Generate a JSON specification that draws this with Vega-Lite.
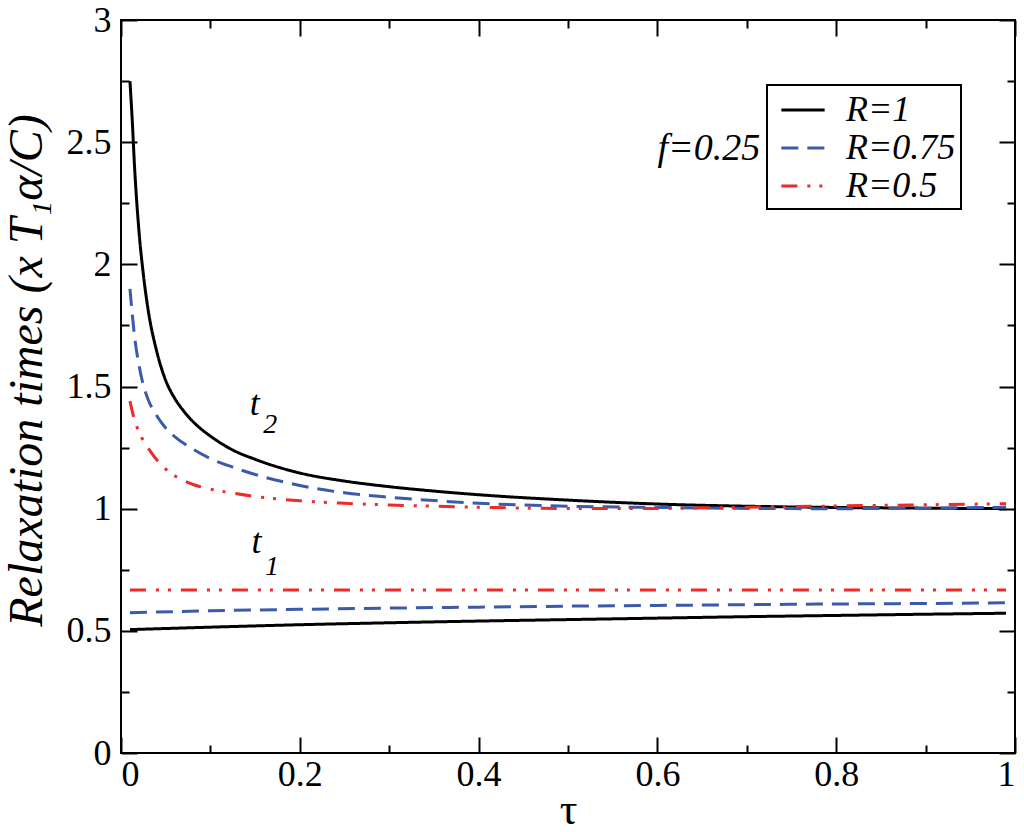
{
  "$schema": "https://vega.github.io/schema/vega-lite/v6.json",
  "width": 894,
  "height": 733,
  "autosize": {"type": "none"},
  "padding": {"left": 121, "top": 20, "right": 9, "bottom": 79},
  "background": "white",
  "config": {
    "view": {"stroke": "black", "strokeWidth": 2},
    "font": "Liberation Serif",
    "axis": {
      "domain": false,
      "grid": false,
      "tickColor": "black",
      "tickWidth": 2,
      "labelFont": "Liberation Serif",
      "labelFontSize": 36,
      "labelColor": "black",
      "titleFont": "Liberation Serif",
      "titleColor": "black",
      "titleFontWeight": "normal"
    },
    "legend": {
      "strokeColor": "black",
      "strokeWidth": 2,
      "fillColor": "white"
    }
  },
  "datasets": {
    "curves": [
      {"tau": 0.01, "t": 2.75, "R": "R=1", "branch": "t2"},
      {"tau": 0.0125, "t": 2.595, "R": "R=1", "branch": "t2"},
      {"tau": 0.015, "t": 2.41, "R": "R=1", "branch": "t2"},
      {"tau": 0.02, "t": 2.14, "R": "R=1", "branch": "t2"},
      {"tau": 0.025, "t": 1.959, "R": "R=1", "branch": "t2"},
      {"tau": 0.03, "t": 1.822, "R": "R=1", "branch": "t2"},
      {"tau": 0.04, "t": 1.643, "R": "R=1", "branch": "t2"},
      {"tau": 0.05, "t": 1.525, "R": "R=1", "branch": "t2"},
      {"tau": 0.06, "t": 1.452, "R": "R=1", "branch": "t2"},
      {"tau": 0.07, "t": 1.4, "R": "R=1", "branch": "t2"},
      {"tau": 0.08, "t": 1.358, "R": "R=1", "branch": "t2"},
      {"tau": 0.09, "t": 1.325, "R": "R=1", "branch": "t2"},
      {"tau": 0.1, "t": 1.297, "R": "R=1", "branch": "t2"},
      {"tau": 0.125, "t": 1.24, "R": "R=1", "branch": "t2"},
      {"tau": 0.15, "t": 1.202, "R": "R=1", "branch": "t2"},
      {"tau": 0.2, "t": 1.146, "R": "R=1", "branch": "t2"},
      {"tau": 0.25, "t": 1.113, "R": "R=1", "branch": "t2"},
      {"tau": 0.3, "t": 1.09, "R": "R=1", "branch": "t2"},
      {"tau": 0.35, "t": 1.072, "R": "R=1", "branch": "t2"},
      {"tau": 0.4, "t": 1.057, "R": "R=1", "branch": "t2"},
      {"tau": 0.5, "t": 1.035, "R": "R=1", "branch": "t2"},
      {"tau": 0.6, "t": 1.019, "R": "R=1", "branch": "t2"},
      {"tau": 0.7, "t": 1.01, "R": "R=1", "branch": "t2"},
      {"tau": 0.8, "t": 1.005, "R": "R=1", "branch": "t2"},
      {"tau": 0.9, "t": 1.002, "R": "R=1", "branch": "t2"},
      {"tau": 0.99, "t": 1.0, "R": "R=1", "branch": "t2"},

      {"tau": 0.01, "t": 1.9, "R": "R=0.75", "branch": "t2"},
      {"tau": 0.0125, "t": 1.8, "R": "R=0.75", "branch": "t2"},
      {"tau": 0.015, "t": 1.71, "R": "R=0.75", "branch": "t2"},
      {"tau": 0.02, "t": 1.59, "R": "R=0.75", "branch": "t2"},
      {"tau": 0.025, "t": 1.505, "R": "R=0.75", "branch": "t2"},
      {"tau": 0.03, "t": 1.45, "R": "R=0.75", "branch": "t2"},
      {"tau": 0.04, "t": 1.38, "R": "R=0.75", "branch": "t2"},
      {"tau": 0.05, "t": 1.33, "R": "R=0.75", "branch": "t2"},
      {"tau": 0.06, "t": 1.295, "R": "R=0.75", "branch": "t2"},
      {"tau": 0.08, "t": 1.245, "R": "R=0.75", "branch": "t2"},
      {"tau": 0.1, "t": 1.205, "R": "R=0.75", "branch": "t2"},
      {"tau": 0.125, "t": 1.17, "R": "R=0.75", "branch": "t2"},
      {"tau": 0.15, "t": 1.14, "R": "R=0.75", "branch": "t2"},
      {"tau": 0.2, "t": 1.095, "R": "R=0.75", "branch": "t2"},
      {"tau": 0.25, "t": 1.065, "R": "R=0.75", "branch": "t2"},
      {"tau": 0.3, "t": 1.047, "R": "R=0.75", "branch": "t2"},
      {"tau": 0.35, "t": 1.033, "R": "R=0.75", "branch": "t2"},
      {"tau": 0.4, "t": 1.022, "R": "R=0.75", "branch": "t2"},
      {"tau": 0.5, "t": 1.01, "R": "R=0.75", "branch": "t2"},
      {"tau": 0.6, "t": 1.005, "R": "R=0.75", "branch": "t2"},
      {"tau": 0.7, "t": 1.001, "R": "R=0.75", "branch": "t2"},
      {"tau": 0.8, "t": 1.0, "R": "R=0.75", "branch": "t2"},
      {"tau": 0.9, "t": 1.002, "R": "R=0.75", "branch": "t2"},
      {"tau": 0.99, "t": 1.006, "R": "R=0.75", "branch": "t2"},

      {"tau": 0.01, "t": 1.44, "R": "R=0.5", "branch": "t2"},
      {"tau": 0.0125, "t": 1.4, "R": "R=0.5", "branch": "t2"},
      {"tau": 0.015, "t": 1.365, "R": "R=0.5", "branch": "t2"},
      {"tau": 0.02, "t": 1.315, "R": "R=0.5", "branch": "t2"},
      {"tau": 0.025, "t": 1.278, "R": "R=0.5", "branch": "t2"},
      {"tau": 0.03, "t": 1.25, "R": "R=0.5", "branch": "t2"},
      {"tau": 0.04, "t": 1.2, "R": "R=0.5", "branch": "t2"},
      {"tau": 0.05, "t": 1.162, "R": "R=0.5", "branch": "t2"},
      {"tau": 0.06, "t": 1.135, "R": "R=0.5", "branch": "t2"},
      {"tau": 0.08, "t": 1.1, "R": "R=0.5", "branch": "t2"},
      {"tau": 0.1, "t": 1.08, "R": "R=0.5", "branch": "t2"},
      {"tau": 0.125, "t": 1.064, "R": "R=0.5", "branch": "t2"},
      {"tau": 0.15, "t": 1.05, "R": "R=0.5", "branch": "t2"},
      {"tau": 0.2, "t": 1.032, "R": "R=0.5", "branch": "t2"},
      {"tau": 0.25, "t": 1.022, "R": "R=0.5", "branch": "t2"},
      {"tau": 0.3, "t": 1.015, "R": "R=0.5", "branch": "t2"},
      {"tau": 0.35, "t": 1.01, "R": "R=0.5", "branch": "t2"},
      {"tau": 0.4, "t": 1.006, "R": "R=0.5", "branch": "t2"},
      {"tau": 0.5, "t": 1.001, "R": "R=0.5", "branch": "t2"},
      {"tau": 0.6, "t": 1.001, "R": "R=0.5", "branch": "t2"},
      {"tau": 0.7, "t": 1.006, "R": "R=0.5", "branch": "t2"},
      {"tau": 0.8, "t": 1.011, "R": "R=0.5", "branch": "t2"},
      {"tau": 0.9, "t": 1.016, "R": "R=0.5", "branch": "t2"},
      {"tau": 0.99, "t": 1.02, "R": "R=0.5", "branch": "t2"},

      {"tau": 0.01, "t": 0.505, "R": "R=1", "branch": "t1"},
      {"tau": 0.1, "t": 0.515, "R": "R=1", "branch": "t1"},
      {"tau": 0.2, "t": 0.525, "R": "R=1", "branch": "t1"},
      {"tau": 0.3, "t": 0.533, "R": "R=1", "branch": "t1"},
      {"tau": 0.4, "t": 0.54, "R": "R=1", "branch": "t1"},
      {"tau": 0.5, "t": 0.546, "R": "R=1", "branch": "t1"},
      {"tau": 0.6, "t": 0.552, "R": "R=1", "branch": "t1"},
      {"tau": 0.7, "t": 0.558, "R": "R=1", "branch": "t1"},
      {"tau": 0.8, "t": 0.563, "R": "R=1", "branch": "t1"},
      {"tau": 0.9, "t": 0.568, "R": "R=1", "branch": "t1"},
      {"tau": 0.99, "t": 0.572, "R": "R=1", "branch": "t1"},

      {"tau": 0.01, "t": 0.574, "R": "R=0.75", "branch": "t1"},
      {"tau": 0.1, "t": 0.582, "R": "R=0.75", "branch": "t1"},
      {"tau": 0.2, "t": 0.588, "R": "R=0.75", "branch": "t1"},
      {"tau": 0.3, "t": 0.593, "R": "R=0.75", "branch": "t1"},
      {"tau": 0.4, "t": 0.597, "R": "R=0.75", "branch": "t1"},
      {"tau": 0.5, "t": 0.601, "R": "R=0.75", "branch": "t1"},
      {"tau": 0.6, "t": 0.604, "R": "R=0.75", "branch": "t1"},
      {"tau": 0.7, "t": 0.607, "R": "R=0.75", "branch": "t1"},
      {"tau": 0.8, "t": 0.61, "R": "R=0.75", "branch": "t1"},
      {"tau": 0.9, "t": 0.612, "R": "R=0.75", "branch": "t1"},
      {"tau": 0.99, "t": 0.615, "R": "R=0.75", "branch": "t1"},

      {"tau": 0.01, "t": 0.667, "R": "R=0.5", "branch": "t1"},
      {"tau": 0.5, "t": 0.667, "R": "R=0.5", "branch": "t1"},
      {"tau": 0.99, "t": 0.667, "R": "R=0.5", "branch": "t1"}
    ],
    "mainLabels": [
      {"tau": 0.144, "t": 1.384, "text": "t"},
      {"tau": 0.146, "t": 0.819, "text": "t"}
    ],
    "subLabels": [
      {"tau": 0.159, "t": 1.31, "text": "2"},
      {"tau": 0.161, "t": 0.729, "text": "1"}
    ],
    "note": [
      {"tau": 0.715, "t": 2.427, "text": "f=0.25"}
    ]
  },
  "layer": [
    {
      "data": {"name": "curves"},
      "mark": {"type": "line", "strokeWidth": 3, "clip": true, "interpolate": "monotone"},
      "encoding": {
        "x": {
          "field": "tau",
          "type": "quantitative",
          "scale": {"domain": [0, 1], "nice": false, "zero": false},
          "axis": {
            "orient": "bottom",
            "values": [0, 0.1, 0.2, 0.3, 0.4, 0.5, 0.6, 0.7, 0.8, 0.9, 1],
            "tickSize": {"condition": {"test": "round(datum.value*10)%2===0", "value": -16}, "value": -8},
            "labelExpr": "round(datum.value*10)%2===0 ? format(datum.value, '~g') : ''",
            "labelPadding": 20,
            "title": "τ",
            "titleFontSize": 44,
            "titleBaseline": "alphabetic",
            "titleY": 70
          }
        },
        "y": {
          "field": "t",
          "type": "quantitative",
          "scale": {"domain": [0, 3], "nice": false},
          "axis": {
            "orient": "left",
            "values": [0, 0.25, 0.5, 0.75, 1, 1.25, 1.5, 1.75, 2, 2.25, 2.5, 2.75, 3],
            "tickSize": {"condition": {"test": "round(datum.value*4)%2===0", "value": -16}, "value": -8},
            "labelExpr": "round(datum.value*4)%2===0 ? format(datum.value, '~g') : ''",
            "labelPadding": 26,
            "title": "Relaxation times (x T₁α/C)",
            "titleFontSize": 48,
            "titleFontStyle": "italic",
            "titleBaseline": "alphabetic",
            "titleAlign": "center",
            "titleY": 350,
            "titleX": -80
          }
        },
        "color": {
          "field": "R",
          "type": "nominal",
          "scale": {"domain": ["R=1", "R=0.75", "R=0.5"], "range": ["#000000", "#3c5aaa", "#ee2a2a"]},
          "legend": {
            "title": null,
            "orient": "none",
            "legendX": 646,
            "legendY": 65,
            "padding": 5,
            "symbolType": "M-1.17,0L1.17,0",
            "symbolSize": 1369,
            "symbolStrokeWidth": 3,
            "symbolFillColor": "transparent",
            "symbolOffset": 11,
            "labelFont": "Liberation Serif",
            "labelFontStyle": "italic",
            "labelFontSize": 36,
            "labelColor": "black",
            "labelOffset": 23,
            "rowPadding": 0
          }
        },
        "strokeDash": {
          "field": "R",
          "type": "nominal",
          "scale": {"domain": ["R=1", "R=0.75", "R=0.5"], "range": [[1, 0], [17, 9], [16, 10, 3, 9, 3, 10]]},
          "legend": {
            "title": null,
            "orient": "none",
            "legendX": 646,
            "legendY": 65,
            "padding": 5,
            "symbolType": "M-1.17,0L1.17,0",
            "symbolSize": 1369,
            "symbolStrokeWidth": 3,
            "symbolFillColor": "transparent",
            "symbolOffset": 11,
            "labelFont": "Liberation Serif",
            "labelFontStyle": "italic",
            "labelFontSize": 36,
            "labelColor": "black",
            "labelOffset": 23,
            "rowPadding": 0
          }
        },
        "detail": {"field": "branch"}
      }
    },
    {
      "data": {"name": "note"},
      "mark": {"type": "text", "align": "right", "baseline": "alphabetic", "fontSize": 38, "fontStyle": "italic", "font": "Liberation Serif", "color": "black"},
      "encoding": {
        "x": {
          "field": "tau",
          "type": "quantitative",
          "axis": {
            "orient": "top",
            "values": [0, 0.1, 0.2, 0.3, 0.4, 0.5, 0.6, 0.7, 0.8, 0.9, 1],
            "tickSize": {"condition": {"test": "round(datum.value*10)%2===0", "value": -16}, "value": -8},
            "labels": false,
            "title": null
          }
        },
        "y": {
          "field": "t",
          "type": "quantitative",
          "axis": {
            "orient": "right",
            "values": [0, 0.25, 0.5, 0.75, 1, 1.25, 1.5, 1.75, 2, 2.25, 2.5, 2.75, 3],
            "tickSize": {"condition": {"test": "round(datum.value*4)%2===0", "value": -16}, "value": -8},
            "labels": false,
            "title": null
          }
        },
        "text": {"field": "text"}
      }
    },
    {
      "data": {"name": "mainLabels"},
      "mark": {"type": "text", "align": "left", "baseline": "alphabetic", "fontSize": 36, "fontStyle": "italic", "font": "Liberation Serif", "color": "black"},
      "encoding": {
        "x": {"field": "tau", "type": "quantitative", "axis": null},
        "y": {"field": "t", "type": "quantitative", "axis": null},
        "text": {"field": "text"}
      }
    },
    {
      "data": {"name": "subLabels"},
      "mark": {"type": "text", "align": "left", "baseline": "alphabetic", "fontSize": 28, "fontStyle": "italic", "font": "Liberation Serif", "color": "black"},
      "encoding": {
        "x": {"field": "tau", "type": "quantitative", "axis": null},
        "y": {"field": "t", "type": "quantitative", "axis": null},
        "text": {"field": "text"}
      }
    }
  ],
  "resolve": {"axis": {"x": "independent", "y": "independent"}}
}
